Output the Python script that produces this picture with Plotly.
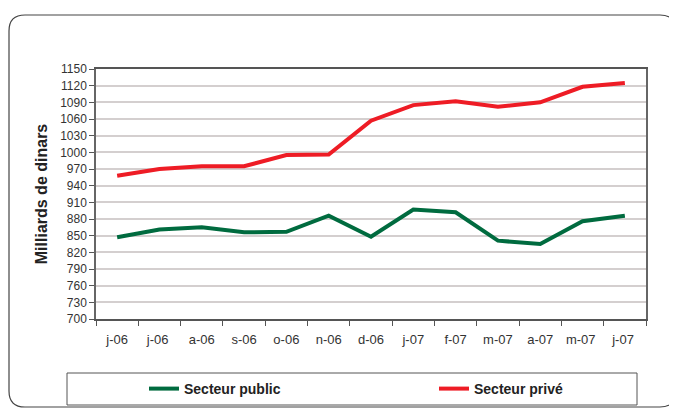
import plotly.graph_objects as go

# ── data ────────────────────────────────────────────────
months = ["j-06", "j-06 ", "a-06", "s-06", "o-06", "n-06", "d-06",
          "j-07", "f-07", "m-07", "a-07", "m-07 ", "j-07 "]
public = [847, 861, 865, 856, 857, 886, 848, 897, 892, 841, 835, 876, 886]
prive = [958, 970, 975, 975, 995, 996, 1057, 1085, 1092, 1082, 1090, 1118, 1125]
y_ticks = list(range(700, 1151, 30))
highlight_grid = 760

GREEN = "#006b3f"
RED = "#ee1c25"
FONT = "Liberation Sans, Arial, sans-serif"

# the page body adds an 8px offset, so screen positions are shifted back by it
OFF = 8
W, H = 677, 408
L, R, T, B = 96 - OFF, 646 - OFF, 69 - OFF, 319 - OFF


def px_x(x):
    # x given in screen pixels
    return (x - OFF - L) / (R - L)


def px_y(y):
    return (B - (y - OFF)) / (B - T)


fig = go.Figure()
fig.add_trace(go.Scatter(x=months, y=public, mode="lines", name="Secteur public",
                         line=dict(color=GREEN, width=4), legend="legend"))
fig.add_trace(go.Scatter(x=months, y=prive, mode="lines", name="Secteur privé",
                         line=dict(color=RED, width=4), legend="legend2"))

# rounded outer frame
x0, x1, y0, y1, r = 9, 676, 15, 407, 16
path = (f"M {px_x(x0 + r)},{px_y(y0)} L {px_x(x1 - r)},{px_y(y0)} "
        f"Q {px_x(x1)},{px_y(y0)} {px_x(x1)},{px_y(y0 + r)} "
        f"L {px_x(x1)},{px_y(y1 - r)} Q {px_x(x1)},{px_y(y1)} {px_x(x1 - r)},{px_y(y1)} "
        f"L {px_x(x0 + r)},{px_y(y1)} Q {px_x(x0)},{px_y(y1)} {px_x(x0)},{px_y(y1 - r)} "
        f"L {px_x(x0)},{px_y(y0 + r)} Q {px_x(x0)},{px_y(y0)} {px_x(x0 + r)},{px_y(y0)} Z")
fig.add_shape(type="path", path=path, xref="paper", yref="paper",
              line=dict(color="#444", width=1.2), layer="below")

# legend frame
fig.add_shape(type="rect", xref="paper", yref="paper",
              x0=px_x(67), x1=px_x(637), y0=px_y(373), y1=px_y(405),
              line=dict(color="#555", width=1), fillcolor="white")

# the odd reddish gridline
fig.add_shape(type="line", xref="paper", yref="y", x0=0, x1=1,
              y0=highlight_grid, y1=highlight_grid,
              line=dict(color="#c4a8a8", width=1), layer="below")

leg_style = dict(orientation="h", yanchor="middle", xanchor="left",
                 bgcolor="rgba(0,0,0,0)", itemwidth=30,
                 font=dict(size=14, color="#222", family=FONT, weight="bold"))

fig.update_layout(
    width=W, height=H,
    margin=dict(l=L, r=W - R, t=T, b=H - B, autoexpand=False),
    paper_bgcolor="white", plot_bgcolor="white",
    font=dict(family=FONT, color="#333"),
    showlegend=True,
    legend=dict(x=px_x(144), y=px_y(389), **leg_style),
    legend2=dict(x=px_x(434), y=px_y(389), **leg_style),
    xaxis=dict(
        type="category", tickson="boundaries", ticks="outside", ticklen=5,
        tickcolor="#555", showline=True, linecolor="#555", linewidth=1.5,
        mirror=True, showgrid=False, tickfont=dict(size=13, color="#333"),
        ticklabelstandoff=8, range=[-0.5, len(months) - 0.5], automargin=False,
    ),
    yaxis=dict(
        range=[700, 1150], tickvals=y_ticks, ticks="outside", ticklen=5,
        tickcolor="#555", showline=True, linecolor="#666", linewidth=1.5,
        mirror=True, showgrid=True, gridcolor="#d4cfcf", gridwidth=1.5,
        zeroline=False, tickfont=dict(size=12, color="#333"), automargin=False,
        title=dict(text="<b>Milliards de dinars</b>", standoff=9,
                   font=dict(size=16, color="#222")),
    ),
)

fig.write_html("out.html")
